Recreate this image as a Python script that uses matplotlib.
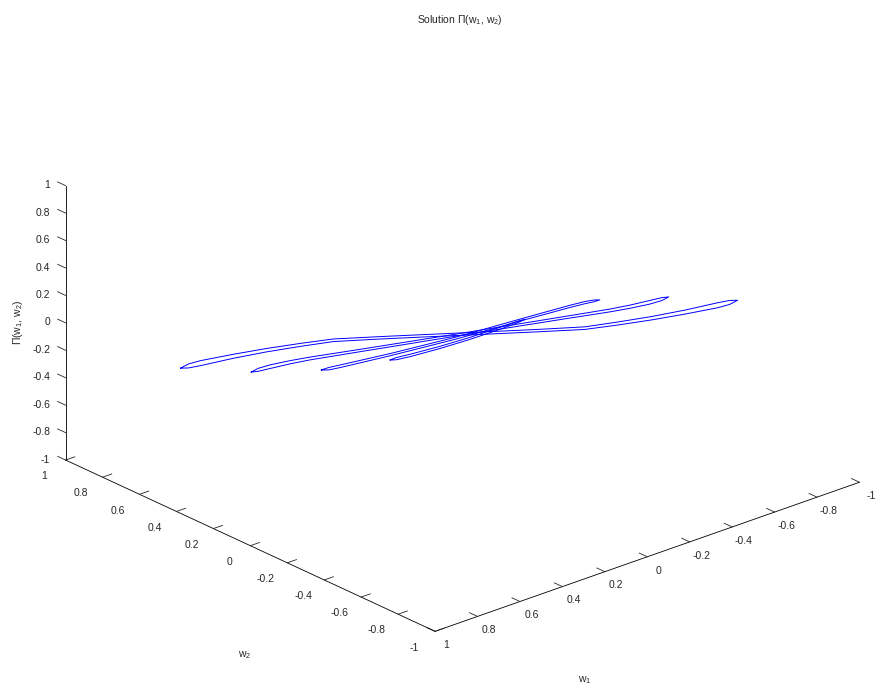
import matplotlib
matplotlib.use('Agg')
import matplotlib.pyplot as plt

plt.rcParams['font.family'] = ['Liberation Sans', 'DejaVu Sans']
plt.rcParams['mathtext.fontset'] = 'custom'
plt.rcParams['mathtext.rm'] = 'Liberation Sans'
plt.rcParams['mathtext.it'] = 'Liberation Sans:italic'
plt.rcParams['axes.unicode_minus'] = False

# ---- data: four thin closed loops of the trajectory (w1, w2, Pi) ----
A_w1 = [0.954, 0.927, 0.886, 0.775, 0.663, 0.548, 0.437, 0.278, 0.143, 0.011,
        -0.121, -0.256, -0.415, -0.526, -0.641, -0.753, -0.864, -0.905, -0.932]
A_w2 = [0.431, 0.419, 0.401, 0.350, 0.300, 0.248, 0.198, 0.127, 0.066, 0.0065,
        -0.053, -0.114, -0.185, -0.235, -0.287, -0.337, -0.388, -0.406, -0.418]
A_up = [0, 0.0233, 0.0364, 0.0545, 0.0669, 0.0742, 0.0771, 0.0524, 0.0305, 0.0087,
        -0.0131, -0.0349, -0.0582, -0.0524, -0.0422, -0.0255, 0.0, 0.0058, 0]
A_lo = [0, -0.0058, 0.0, 0.0255, 0.0422, 0.0524, 0.0582, 0.0349, 0.0131, -0.0087,
        -0.0305, -0.0524, -0.0771, -0.0742, -0.0669, -0.0545, -0.0364, -0.0233, 0]

B_w1 = [0.787, 0.761, 0.716, 0.642, 0.568, 0.382, 0.196, 0.010, -0.176, -0.362,
        -0.548, -0.622, -0.696, -0.741, -0.767]
B_w2 = [0.240, 0.232, 0.218, 0.196, 0.173, 0.116, 0.059, 0.0025, -0.054, -0.111,
        -0.168, -0.191, -0.213, -0.227, -0.235]
B_up = [0, 0.018, 0.028, 0.032, 0.032, 0.023, 0.0153, 0.0073, 0.0007, -0.0058,
        -0.0116, -0.0087, -0.0015, 0.0036, 0]
B_lo = [0, -0.0036, 0.0015, 0.0087, 0.0116, 0.0058, -0.0007, -0.0073, -0.0153, -0.023,
        -0.032, -0.032, -0.028, -0.018, 0]

C_w1 = [0.587, 0.558, 0.509, 0.302, 0.034, -0.255, -0.441, -0.503, -0.540, -0.565]
C_w2 = [0.090, 0.085, 0.0775, 0.0445, 0.0016, -0.0445, -0.074, -0.084, -0.090, -0.094]
C_up = [0, 0.0051, 0.0022, -0.0065, -0.0073, 0.0073, 0.0153, 0.0153, 0.0102, 0]
C_lo = [0, -0.0124, -0.0167, -0.0225, -0.0218, -0.0073, -0.0007, -0.0007, -0.0029, 0]

D_w1 = [0.345, 0.3185, 0.2565, 0.1237, -0.0091, -0.1419, -0.2215, -0.2525]
D_w2 = [-0.004, -0.006, -0.0105, -0.0203, -0.0301, -0.0399, -0.0457, -0.048]
D_up = [0, 0.0044, -0.0022, -0.0102, -0.0109, -0.0036, 0.0022, 0]
D_lo = [0, -0.0116, -0.0196, -0.0262, -0.0255, -0.0182, -0.0095, 0]

tick_vals = [-1, -0.8, -0.6, -0.4, -0.2, 0, 0.2, 0.4, 0.6, 0.8, 1]
tick_labels = ['-1', '-0.8', '-0.6', '-0.4', '-0.2', '0', '0.2', '0.4', '0.6', '0.8', '1']

loops = [(A_w1, A_w2, A_up, A_lo), (B_w1, B_w2, B_up, B_lo),
         (C_w1, C_w2, C_up, C_lo), (D_w1, D_w2, D_up, D_lo)]

fig = plt.figure(figsize=(8.75, 6.92), dpi=100)
side = 692
cx, cy = 462.5 - 9.3, 692 - 334 - 9.3
ax = fig.add_axes([(cx - side / 2) / 875, (cy - side / 2) / 692, side / 875, side / 692],
                  projection='3d')
ax.set_proj_type('ortho')
ax.set_box_aspect((1, 1, 0.533), zoom=1.193)
ax.view_init(elev=23.8, azim=-131.04)

for w1, w2, up, lo in loops:
    xs = list(w1) + list(w1[::-1])
    ys = list(w2) + list(w2[::-1])
    zs = list(up) + list(lo[::-1])
    ax.plot(xs, ys, zs, color='#0000ff', lw=0.7)

ax.set_xlim(1, -1)
ax.set_ylim(-1, 1)
ax.set_zlim(-1, 1)

for axis in (ax.xaxis, ax.yaxis, ax.zaxis):
    axis.set_pane_color((1, 1, 1, 0))
    axis.pane.set_edgecolor((1, 1, 1, 0))
    axis.line.set_color('black')
    axis.line.set_linewidth(0.6)
    axis._axinfo['tick']['inward_factor'] = 0.0
    axis._axinfo['tick']['outward_factor'] = 0.27
    axis._axinfo['tick']['color'] = 'black'
    axis._axinfo['tick']['linewidth'] = {True: 0.6, False: 0.6}
ax.grid(False)

# z ticks point along the w2 direction (as in the reference), axis stays at the left corner
try:
    zinfo = {k: dict(v) for k, v in type(ax.zaxis)._AXINFO.items()}
    zinfo['z']['tickdir'] = 1
    ax.zaxis._AXINFO = zinfo
except Exception:
    pass

ax.set_xticks(tick_vals)
xt = ax.set_xticklabels(tick_labels)
ax.set_yticks(tick_vals)
yt = ax.set_yticklabels(tick_labels)
ax.set_zticks(tick_vals)
zt = ax.set_zticklabels(tick_labels)
ax.tick_params(labelsize=7.5, colors='#262626')
ax.tick_params(axis='z', pad=-3)
ax.tick_params(axis='x', pad=0)
ax.tick_params(axis='y', pad=5)
for t in xt:
    t.set_va('center')
for t in yt:
    t.set_va('bottom')
for t in zt:
    t.set_ha('right')
    t.set_va('center')

lab = dict(fontsize=7.5, color='#262626', transform=fig.transFigure, ha='center', va='center')
ax.text2D(585 / 875, 1 - 680 / 692, 'w$_1$', **lab)
ax.text2D(245 / 875, 1 - 655 / 692, 'w$_2$', **lab)
ax.text2D(18 / 875, 1 - 322 / 692, r'$\Pi$(w$_1$, w$_2$)', rotation=90, **lab)

fig.text(460 / 875, 1 - 20 / 692, r'Solution $\Pi$(w$_1$, w$_2$)', ha='center', va='center',
         fontsize=7.5, color='#262626')

fig.savefig('out.png', dpi=100)
